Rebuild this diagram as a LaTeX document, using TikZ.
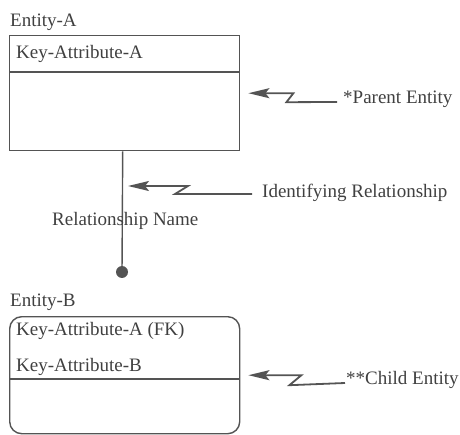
\documentclass[tikz,border=0pt]{standalone}
\usepackage{fontspec}
\setmainfont{Liberation Serif}
\usetikzlibrary{arrows.meta}
\definecolor{ink}{gray}{0.25}
\definecolor{pen}{gray}{0.33}

\begin{document}
\begin{tikzpicture}[x=1pt, y=-1pt,
    lbl/.style={inner sep=0pt, anchor=base west, text=ink, font=\fontsize{19}{22}\selectfont},
    entbox/.style={draw=pen, line width=1.4pt, anchor=north west, minimum width=230pt, inner sep=0pt},
    pointer/.style={draw=pen, line width=1.8pt, {Stealth[length=21pt,width=10pt,inset=4pt]}-},
    rdot/.style={circle, fill=pen, inner sep=0pt, minimum size=12pt}]
    \useasboundingbox (0,0) rectangle (460,435);
    % parent entity
    \node[lbl] (na) at (10,27) {Entity-A};
    \node[entbox, minimum height=115pt] (ea) at (9,35) {};
    \draw[pen, line width=1.4pt] (ea.west |- 0,72) -- (ea.east |- 0,72);
    \node[lbl] (ka) at (16,59) {Key-Attribute-A};
    % relationship line
    \node[rdot] (rd) at (122,272) {};
    \draw[pen, line width=1.4pt] ([xshift=-2pt]ea.south) -- (rd);
    \coordinate (rel) at (122,186);
    \node[lbl] (rn) at (52,226) {Relationship Name};
    % child entity
    \node[lbl] (nb) at (10,306) {Entity-B};
    \node[entbox, rounded corners=12pt, minimum height=117pt] (eb) at (9,316) {};
    \draw[pen, line width=1.4pt] (eb.west |- 0,379) -- (eb.east |- 0,379);
    \node[lbl] (kfk) at (16,335) {Key-Attribute-A (FK)};
    \node[lbl] (kb) at (16,371) {Key-Attribute-B};
    % notes
    \node[lbl] (pe) at (343,104) {*Parent Entity};
    \node[lbl] (ir) at (262,198) {Identifying Relationship};
    \node[lbl] (ce) at (346,384) {**Child Entity};
    \draw[pointer] ([xshift=8pt]ea.east) -- ++(45,0) -- ++(-7,9) -- ([shift={(-6,-2)}]pe.base west);
    \draw[pointer] ([xshift=6pt]rel) -- ++(60,0) -- ++(-13,8) -- ([shift={(-10,-4)}]ir.base west);
    \draw[pointer] ([xshift=8pt]eb.east) -- ++(53,0) -- ++(-12,10) -- ([shift={(-1,-1)}]ce.base west);
\end{tikzpicture}
\end{document}
